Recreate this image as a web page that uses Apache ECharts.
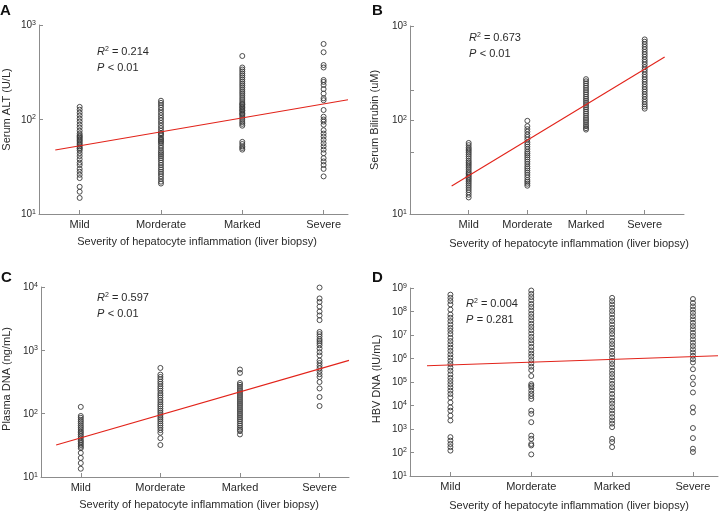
<!DOCTYPE html>
<html><head><meta charset="utf-8">
<script src="https://cdn.jsdelivr.net/npm/echarts@6/dist/echarts.min.js"></script>
<style>html,body{margin:0;padding:0;background:#fff}#c{width:719px;height:512px}</style>
</head><body><div id="c"></div>
<script>
const categories = ['Mild', 'Morderate', 'Marked', 'Severe'];
const xTitle = 'Severity of hepatocyte inflammation (liver biopsy)';

// Panel A: Serum ALT (U/L)
const altMild = [136, 127, 118, 110, 102, 95, 88, 82, 76, 71, 68, 66, 64, 62, 60, 58, 56, 54, 52, 50, 49, 47, 44, 41, 38, 35, 33, 30, 28, 26, 24, 19.4, 17.2, 14.8];
const altModerate = [158, 150, 142, 134, 126, 118, 111, 104, 98, 92, 86, 81, 76, 72, 70, 68, 64, 62, 60, 58, 56, 53, 50, 47, 45, 43, 41, 39, 37, 35, 33, 31, 29.5, 28, 26.5, 25, 23.5, 22, 21];
const altMarked = [470, 355, 338, 322, 306, 292, 278, 264, 251, 239, 228, 217, 206, 196, 187, 178, 169, 161, 153, 146, 145, 139, 135, 132, 126, 125, 120, 115, 114, 109, 104, 99, 94, 90, 86, 58, 55, 52, 50, 48];
const altSevere = [630, 515, 377, 355, 262, 250, 232, 210, 188, 168, 160, 126, 107, 100, 95, 88, 77, 71, 66, 61, 56, 52, 48, 44, 39, 36, 33, 30, 25];
const altFit = [[0.7, 47.6], [4.3, 162]];

// Panel B: Serum Bilirubin (uM)
const bilMild = [57, 54, 51, 49, 47, 45, 43, 41, 39, 37, 35.5, 34, 32.5, 31, 29.5, 28, 27, 26, 25, 24, 23, 22, 21, 20, 19, 18, 17, 16, 15];
const bilModerate = [98, 86, 80, 75, 70, 66, 62, 58, 55, 52, 49, 46, 44, 42, 40, 38, 36, 34, 32, 30.5, 29, 27.5, 26, 24.5, 23, 22, 21, 20];
const bilMarked = [272, 258, 245, 232, 220, 208, 197, 187, 177, 168, 160, 152, 144, 137, 130, 123, 117, 111, 105, 100, 95, 90, 86, 82, 79];
const bilSevere = [720, 680, 640, 600, 565, 530, 500, 470, 440, 415, 390, 365, 345, 325, 305, 287, 270, 255, 240, 225, 212, 200, 188, 177, 166, 156, 147, 139, 132];
const bilFit = [[0.71, 19.9], [4.34, 468]];
const bilExtraTickLogs = [2.32, 1.655];

// Panel C: Plasma DNA (ng/mL)
const dnaMild = [128, 92, 86, 80, 75, 70, 65, 61, 57, 53, 50, 47, 44, 41, 38, 36, 34, 32, 30, 28.5, 24, 20, 16.6, 13.5];
const dnaModerate = [527, 414, 380, 350, 320, 295, 270, 250, 230, 210, 195, 180, 165, 152, 140, 130, 120, 111, 103, 95, 88, 82, 76, 70, 65, 60, 55, 50, 41, 32];
const dnaMarked = [498, 440, 305, 285, 265, 245, 228, 212, 197, 183, 170, 158, 147, 137, 127, 118, 110, 102, 95, 88, 82, 76, 70, 65, 60, 56, 53, 47];
const dnaSevere = [9800, 6600, 5800, 4900, 4100, 3550, 3000, 1950, 1800, 1650, 1500, 1400, 1300, 1200, 1070, 935, 830, 690, 630, 570, 520, 470, 420, 380, 316, 250, 183, 132];
const dnaFit = [[0.69, 32], [4.37, 694]];

// Panel D: HBV DNA (IU/mL)
const hbvMild = [5.2e8, 3.8e8, 2.8e8, 2.0e8, 1.2e8, 7.4e7, 5.4e7, 3.9e7, 2.8e7, 2.0e7, 1.5e7, 1.1e7, 7.6e6, 5.5e6, 4.0e6, 2.9e6, 2.1e6, 1.5e6, 1.1e6, 7.9e5, 5.8e5, 4.1e5, 3.0e5, 2.1e5, 1.5e5, 1.1e5, 8.1e4, 5.9e4, 4.3e4, 3.1e4, 2.2e4, 1.35e4, 8.3e3, 6.0e3, 3.7e3, 2.3e3, 450, 320, 230, 170, 120];
const hbvModerate = [7.8e8, 5.6e8, 4.1e8, 3.0e8, 2.1e8, 1.55e8, 1.1e8, 7.9e7, 5.8e7, 4.2e7, 3.0e7, 2.2e7, 1.6e7, 1.15e7, 8.3e6, 6.0e6, 4.4e6, 3.1e6, 2.2e6, 1.6e6, 1.2e6, 8.5e5, 6.2e5, 4.5e5, 3.2e5, 1.8e5, 8.1e4, 6.9e4, 5.9e4, 4.3e4, 3.2e4, 2.5e4, 1.9e4, 6.0e3, 4.4e3, 1.95e3, 520, 380, 230, 200, 83];
const hbvMarked = [3.8e8, 2.75e8, 2.0e8, 1.45e8, 1.05e8, 7.6e7, 5.4e7, 3.9e7, 2.8e7, 2.0e7, 1.5e7, 1.1e7, 7.8e6, 5.6e6, 4.1e6, 3.0e6, 2.1e6, 1.55e6, 1.1e6, 7.9e5, 5.8e5, 4.2e5, 3.0e5, 2.2e5, 1.6e5, 1.15e5, 8.3e4, 6.0e4, 4.4e4, 3.1e4, 2.2e4, 1.6e4, 1.2e4, 8.5e3, 6.2e3, 4.5e3, 3.2e3, 2.3e3, 1.7e3, 1.2e3, 380, 280, 170];
const hbvSevere = [3.4e8, 2.3e8, 1.65e8, 1.2e8, 8.7e7, 6.3e7, 4.6e7, 3.3e7, 2.4e7, 1.75e7, 1.25e7, 9.1e6, 6.5e6, 4.7e6, 3.4e6, 2.45e6, 1.8e6, 1.3e6, 9.3e5, 6.8e5, 3.5e5, 1.55e5, 8.1e4, 3.6e4, 8.3e3, 5.1e3, 1.1e3, 410, 145, 105];
const hbvFit = [[0.71, 4.9e5], [4.31, 1.3e6]];

const FONT = '"Liberation Sans", Arial, sans-serif';
const TXT = '#2a2a2a';
const AX = '#8c8c8c';

const panels = [
  { letter: 'A', grid: { left: 39, top: 25, width: 309, height: 189 }, xMin: 0.5, xMax: 4.3,
    yMin: 10, yMax: 1000, yName: 'Serum ALT (U/L)', yNameGap: 27, yNamePad: [0, 0, 0, 20], xNamePad: [0, 0, 0, 7], xNameGap: 22,
    cols: [altMild, altModerate, altMarked, altSevere], fit: altFit,
    r2: '0.214', p: '< 0.01', ann: [97, 46], letterPos: [0, 3] },
  { letter: 'B', grid: { left: 410, top: 26, width: 274, height: 188 }, xMin: 0, xMax: 4.67,
    yMin: 10, yMax: 1000, yName: 'Serum Bilirubin (uM)', yNameGap: 30, yNamePad: [0, 0, 0, 0], xNamePad: [0, 0, 0, 44], xNameGap: 24,
    cols: [bilMild, bilModerate, bilMarked, bilSevere], fit: bilFit,
    r2: '0.673', p: '< 0.01', ann: [469, 32], letterPos: [372, 3] },
  { letter: 'C', grid: { left: 40, top: 287, width: 309, height: 190 }, xMin: 0.5, xMax: 4.37,
    yMin: 10, yMax: 10000, yName: 'Plasma DNA (ng/mL)', yNameGap: 29, yNamePad: [0, 0, 0, 6], xNamePad: [0, 0, 0, 8], xNameGap: 22,
    cols: [dnaMild, dnaModerate, dnaMarked, dnaSevere], fit: dnaFit,
    r2: '0.597', p: '< 0.01', ann: [97, 292], letterPos: [1, 270] },
  { letter: 'D', grid: { left: 410, top: 288, width: 308, height: 189 }, xMin: 0.5, xMax: 4.31,
    yMin: 10, yMax: 1e9, yName: 'HBV DNA (IU/mL)', yNameGap: 28, yNamePad: [0, 0, 0, 6], xNamePad: [0, 0, 0, 10], xNameGap: 24,
    cols: [hbvMild, hbvModerate, hbvMarked, hbvSevere], fit: hbvFit,
    r2: '0.004', p: '= 0.281', ann: [466, 298], letterPos: [372, 270] }
];

const grid = [], xAxis = [], yAxis = [], series = [], graphic = [];
panels.forEach((p, i) => {
  grid.push(p.grid);
  xAxis.push({
    gridIndex: i, type: 'value', min: p.xMin, max: p.xMax,
    axisLine: { lineStyle: { color: AX, width: 1 } },
    axisTick: { inside: true, length: 4, customValues: [1, 2, 3, 4], lineStyle: { color: AX } },
    axisLabel: { customValues: [1, 2, 3, 4], formatter: v => categories[Math.round(v) - 1], margin: 5,
      fontSize: 11, color: TXT, fontFamily: FONT },
    splitLine: { show: false },
    name: xTitle, nameLocation: 'middle', nameGap: p.xNameGap,
    nameTextStyle: { fontSize: 11, color: TXT, fontFamily: FONT, padding: p.xNamePad }
  });
  yAxis.push({
    gridIndex: i, type: 'log', logBase: 10, min: p.yMin, max: p.yMax,
    axisLine: { show: true, lineStyle: { color: AX, width: 1 } },
    axisTick: { show: true, inside: true, length: 4, lineStyle: { color: AX } },
    axisLabel: {
      margin: 3,
      formatter: v => '{b|10}{s|' + Math.round(Math.log10(v)) + '}',
      rich: {
        b: { fontSize: 10, color: TXT, fontFamily: FONT, verticalAlign: 'bottom' },
        s: { fontSize: 7, color: TXT, fontFamily: FONT, verticalAlign: 'top', padding: [0, 0, 4, 0] }
      }
    },
    splitLine: { show: false },
    name: p.yName, nameLocation: 'middle', nameGap: p.yNameGap,
    nameTextStyle: { fontSize: 11, color: TXT, fontFamily: FONT, padding: p.yNamePad }
  });
  const pts = [];
  p.cols.forEach((col, ci) => col.forEach(v => pts.push([ci + 1, v])));
  series.push({
    type: 'scatter', xAxisIndex: i, yAxisIndex: i, data: pts, symbol: 'circle', symbolSize: 5,
    itemStyle: { color: 'rgba(255,255,255,0)', borderColor: '#3a3a3a', borderWidth: 0.9, opacity: 1 },
    silent: true, z: 2
  });
  series.push({
    type: 'line', xAxisIndex: i, yAxisIndex: i, data: p.fit, showSymbol: false, symbol: 'none',
    lineStyle: { color: '#e2231a', width: 1.1 }, silent: true, z: 3
  });
  graphic.push({ type: 'text', left: p.letterPos[0], top: p.letterPos[1],
    style: { text: p.letter, font: 'bold 15px ' + FONT, fill: '#111' } });
  graphic.push({ type: 'text', left: p.ann[0], top: p.ann[1],
    style: { text: '{i|R}{s|2}{n| = ' + p.r2 + '}', rich: {
      i: { fontSize: 11, fontStyle: 'italic', fontFamily: FONT, fill: TXT, color: TXT, verticalAlign: 'bottom' },
      s: { fontSize: 7, fontFamily: FONT, fill: TXT, color: TXT, verticalAlign: 'top', padding: [0, 0, 3, 0] },
      n: { fontSize: 11, fontFamily: FONT, fill: TXT, color: TXT, verticalAlign: 'bottom' } } } });
  graphic.push({ type: 'text', left: p.ann[0], top: p.ann[1] + 16,
    style: { text: '{i|P} {n|' + p.p + '}', rich: {
      i: { fontSize: 11, fontStyle: 'italic', fontFamily: FONT, fill: TXT, color: TXT },
      n: { fontSize: 11, fontFamily: FONT, fill: TXT, color: TXT } } } });
});

// extra ticks on panel B's y axis (log10 positions)
yAxis.push({
  gridIndex: 1, type: 'value', min: 1, max: 3, position: 'left',
  axisLine: { show: false }, axisLabel: { show: false }, splitLine: { show: false },
  axisTick: { show: true, inside: true, length: 4, customValues: bilExtraTickLogs, lineStyle: { color: AX } }
});

const chart = echarts.init(document.getElementById('c'), null, { renderer: 'canvas' });
chart.setOption({ animation: false, backgroundColor: '#fff', grid, xAxis, yAxis, series, graphic });
</script></body></html>
